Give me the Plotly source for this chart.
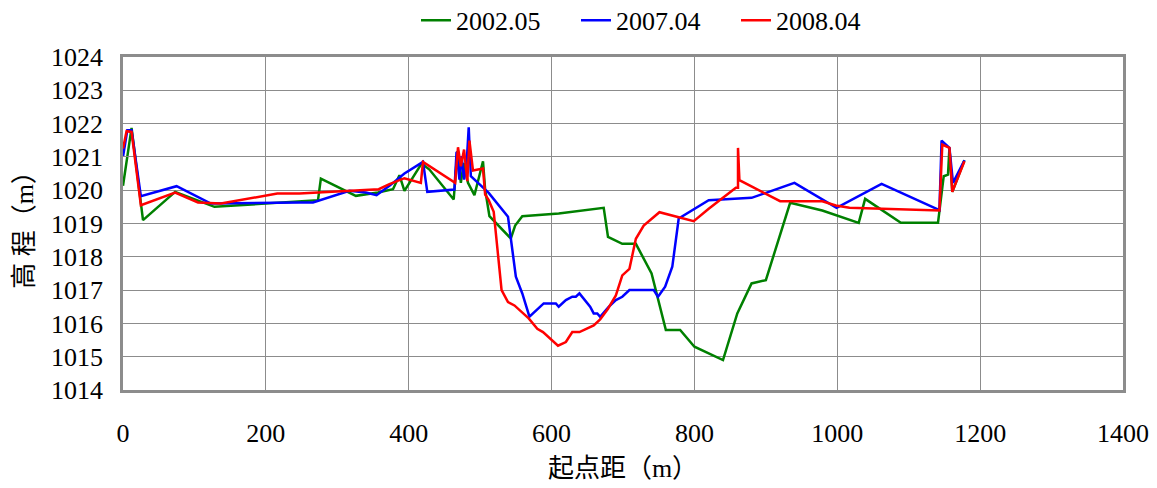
import plotly.graph_objects as go

# 2002.05
x_2002 = [0, 12, 28, 73, 128, 247, 273, 277, 326, 357, 378, 387, 394, 418, 429, 463, 468, 473, 477, 483,
          492, 504, 507, 513, 543, 549, 559, 610, 673, 679, 699, 718, 740, 760, 780, 800, 840, 860, 880,
          900, 934, 979, 1030, 1039, 1089, 1141, 1149, 1155, 1157, 1161, 1178]
y_2002 = [1020.13, 1021.87, 1019.10, 1019.95, 1019.50, 1019.67, 1019.70, 1020.35, 1019.83, 1019.93,
          1020.03, 1020.45, 1019.98, 1020.80, 1020.62, 1019.72, 1021.17, 1020.22, 1020.82, 1020.22,
          1019.85, 1020.87, 1020.02, 1019.22, 1018.55, 1018.94, 1019.22, 1019.30, 1019.47, 1018.60,
          1018.39, 1018.39, 1017.50, 1015.80, 1015.80, 1015.30, 1014.90, 1016.30, 1017.20, 1017.30,
          1019.62, 1019.39, 1019.02, 1019.74, 1019.02, 1019.02, 1020.42, 1020.47, 1021.27, 1019.95,
          1020.90]

# 2007.04
x_2007 = [0, 6, 12, 25, 75, 123, 247, 266, 317, 340, 355, 373, 394, 420, 426, 464, 467, 471, 474, 477.5,
          481, 484, 487, 512, 539, 543, 550, 559, 569, 589, 606, 610, 620, 629, 634, 639, 647, 654, 659,
          664, 668, 680, 690, 699, 709, 743, 749, 759, 769, 778, 820, 880, 940, 999, 1062, 1143, 1146,
          1157, 1162, 1178]
y_2007 = [1021.00, 1021.80, 1021.80, 1019.82, 1020.12, 1019.60, 1019.63, 1019.63, 1019.98, 1019.93,
          1019.85, 1020.13, 1020.50, 1020.85, 1019.95, 1020.02, 1021.15, 1020.32, 1021.02, 1020.32,
          1020.77, 1021.89, 1020.42, 1019.92, 1019.20, 1018.50, 1017.40, 1016.90, 1016.20, 1016.60,
          1016.60, 1016.50, 1016.70, 1016.80, 1016.80, 1016.90, 1016.70, 1016.50, 1016.30, 1016.30,
          1016.20, 1016.50, 1016.70, 1016.80, 1017.00, 1017.00, 1016.80, 1017.10, 1017.70, 1019.15,
          1019.70, 1019.77, 1020.22, 1019.47, 1020.19, 1019.40, 1021.49, 1021.27, 1020.22, 1020.90]

# 2008.04
x_2008 = [0, 5, 12, 25, 73, 105, 137, 216, 247, 358, 373, 394, 417, 420, 465, 469, 473, 477.5, 482, 485,
          490, 504, 507, 512, 519, 530, 539, 548, 568, 580, 588, 609, 620, 629, 639, 659, 668, 679, 690,
          699, 709, 718, 729, 751, 778, 799, 820, 858, 861, 861, 863, 920, 979, 998, 1017, 1143, 1147,
          1157, 1161, 1178]
y_2008 = [1021.25, 1021.77, 1021.75, 1019.55, 1019.93, 1019.63, 1019.60, 1019.90, 1019.90, 1020.03,
          1020.18, 1020.36, 1020.22, 1020.85, 1020.22, 1021.29, 1020.72, 1021.22, 1020.27, 1021.49,
          1020.59, 1020.65, 1019.87, 1019.70, 1019.35, 1017.00, 1016.64, 1016.54, 1016.15, 1015.84,
          1015.74, 1015.33, 1015.44, 1015.74, 1015.74, 1015.94, 1016.12, 1016.44, 1016.84, 1017.44,
          1017.64, 1018.54, 1018.94, 1019.34, 1019.19, 1019.07, 1019.44, 1020.07, 1020.07, 1021.27,
          1020.30, 1019.67, 1019.67, 1019.54, 1019.47, 1019.39, 1021.37, 1021.27, 1019.95, 1020.87]

series = [
    ("2002.05", x_2002, y_2002, "#008000"),
    ("2007.04", x_2007, y_2007, "#0000FF"),
    ("2008.04", x_2008, y_2008, "#FF0000"),
]

FONT = "Liberation Serif, Noto Sans CJK SC"
FS = 26

fig = go.Figure()
for name, xs, ys, color in series:
    fig.add_trace(go.Scatter(x=xs, y=ys, mode="lines", name=name,
                             line=dict(color=color, width=2.5)))

axis_common = dict(
    showline=True, linecolor="#8c8c8c", linewidth=2.5, mirror=True,
    showgrid=True, gridcolor="#8c8c8c", gridwidth=1,
    ticks="inside", ticklen=9, tickcolor="#8c8c8c", tickwidth=1,
    zeroline=False, automargin=False,
    tickfont=dict(family=FONT, size=FS, color="black"),
)

# page body has an 8px default margin, so the figure is offset by (8, 8)
fig.update_layout(
    width=1149, height=480,
    margin=dict(l=115, r=34, t=49, b=98, autoexpand=False),
    paper_bgcolor="white", plot_bgcolor="white",
    font=dict(family=FONT, size=FS, color="black"),
    showlegend=True,
    legend=dict(orientation="h", x=0.293, xanchor="left", y=1.11, yanchor="middle",
                font=dict(family=FONT, size=FS, color="black"), bgcolor="rgba(0,0,0,0)",
                entrywidth=115, entrywidthmode="pixels", itemwidth=30),
    xaxis=dict(range=[0, 1400], dtick=200, tick0=0, ticklabelstandoff=18,
               title=dict(text="起点距（m）", font=dict(family=FONT, size=FS), standoff=12),
               **axis_common),
    yaxis=dict(range=[1014, 1024], dtick=1, tick0=1014, ticklabelstandoff=12,
               title=dict(text="高 程（m）", font=dict(family=FONT, size=FS), standoff=10),
               **axis_common),
)

fig.write_html("out.html")
